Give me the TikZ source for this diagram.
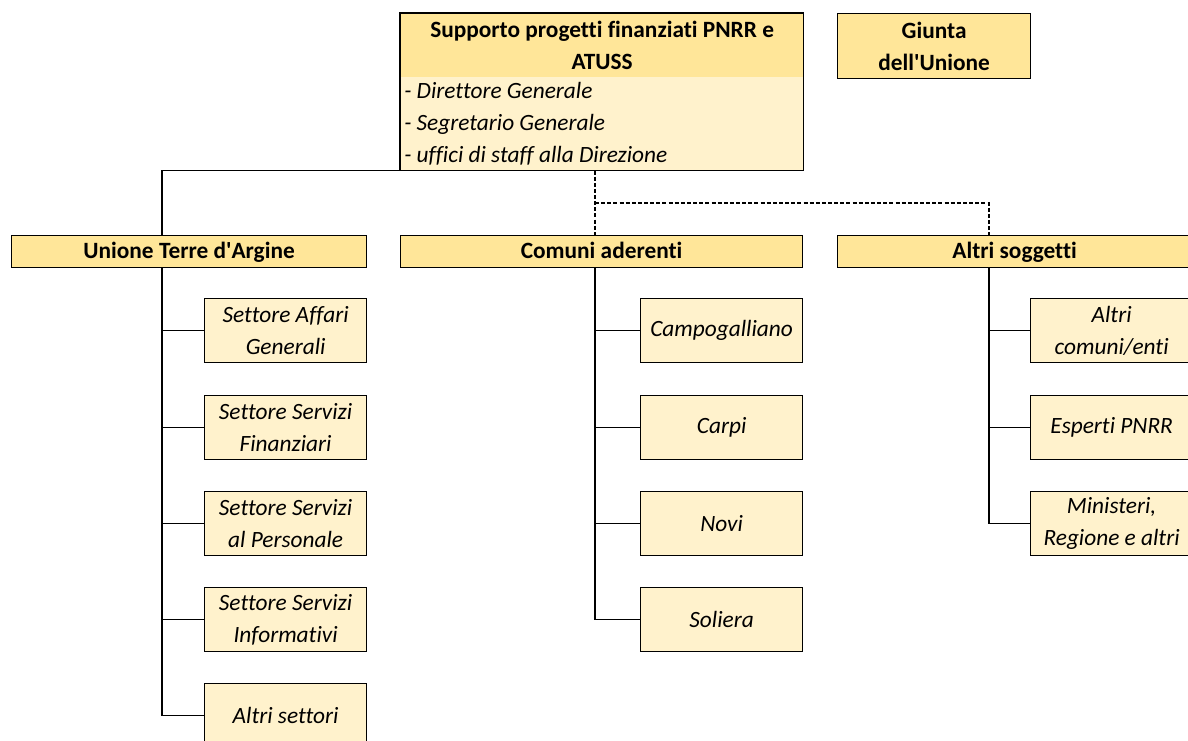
\documentclass[tikz,border=0pt]{standalone}
\usepackage{fontspec}
\setmainfont{Carlito}[Ligatures={NoCommon}]
\usetikzlibrary{positioning,calc}
\definecolor{hdrgold}{HTML}{FFE699}
\definecolor{leafcream}{HTML}{FFF2CC}

\begin{document}
\begin{tikzpicture}[x=0.75pt,y=-0.75pt,
  head/.style={rectangle, draw, fill=hdrgold, line width=0.9pt,
               minimum height=24pt, inner sep=0pt, anchor=north west,
               text height=11pt, text depth=1pt,
               font=\fontsize{17.5}{24}\selectfont\bfseries},
  leaf/.style={rectangle, draw, fill=leafcream, line width=0.9pt,
               minimum width=121.5pt, minimum height=48pt, inner sep=0pt,
               anchor=north west, align=center,
               font=\fontsize{17.5}{24}\selectfont\itshape},
  conn/.style={line width=0.9pt},
  staff/.style={line width=0.9pt, dash pattern=on 3pt off 1.6pt}
]
  \useasboundingbox (0,0) rectangle (1188,740);

  % top: support box and giunta
  \node[head, draw=none, minimum width=302.25pt, minimum height=48pt,
        text height=, text depth=, align=center] (suphead) at (400,13)
        {Supporto progetti finanziati PNRR e\\ATUSS};
  \node[rectangle, fill=leafcream, anchor=north west, inner ysep=0pt,
        inner xsep=3pt, text width=296.25pt, minimum height=69.75pt,
        align=flush left, font=\fontsize{17.5}{24}\selectfont\itshape]
        (supbody) at (400,77)
        {- Direttore Generale\\- Segretario Generale\\- uffici di staff alla Direzione};
  \draw[line width=0.9pt] (suphead.north west) rectangle (supbody.south east);
  \node[head, minimum width=144.75pt, minimum height=48.75pt, align=center,
        text height=, text depth=]
        (giunta) at (837,13) {Giunta\\dell\textquotesingle Unione};

  % three branches
  \node[head, minimum width=266.25pt] (unione) at (11,235) {Unione Terre d\textquotesingle Argine};
  \node[head, minimum width=301.5pt] (comuni) at (400,235) {Comuni aderenti};
  \node[head, minimum width=265.5pt] (altri) at (837,235) {Altri soggetti};

  \coordinate (utrunk) at (162,235);
  \coordinate (ctrunk) at (595,235);
  \coordinate (atrunk) at (989,235);
  \coordinate (split) at (595,203);

  % Unione leaves
  \node[leaf] (affari) at (204,298) {Settore Affari\\Generali};
  \node[leaf] (finanz) at (204,395) {Settore Servizi\\Finanziari};
  \node[leaf] (person) at (204,491) {Settore Servizi\\al Personale};
  \node[leaf] (inform) at (204,587) {Settore Servizi\\Informativi};
  \node[leaf] (altset) at (204,683) {Altri settori};

  % Comuni leaves
  \node[leaf] (campo) at (640,298) {Campogalliano};
  \node[leaf] (carpi) at (640,395) {Carpi};
  \node[leaf] (novi) at (640,491) {Novi};
  \node[leaf] (soliera) at (640,587) {Soliera};

  % Altri leaves
  \node[leaf] (enti) at (1030,298) {Altri\\comuni/enti};
  \node[leaf] (esperti) at (1030,395) {Esperti PNRR};
  \node[leaf] (minist) at (1030,491) {Ministeri,\\Regione e altri};

  % links from the top
  \draw[conn] (supbody.south west) -| (utrunk);
  \draw[staff] (supbody.south -| ctrunk) -- (ctrunk);
  \draw[staff] (split) -| (atrunk);

  % trunks and branches
  \draw[conn] (unione.south -| utrunk) |- (altset.west);
  \draw[conn] (affari.west) -- (affari.west -| utrunk);
  \draw[conn] (finanz.west) -- (finanz.west -| utrunk);
  \draw[conn] (person.west) -- (person.west -| utrunk);
  \draw[conn] (inform.west) -- (inform.west -| utrunk);

  \draw[conn] (comuni.south -| ctrunk) |- (soliera.west);
  \draw[conn] (campo.west) -- (campo.west -| ctrunk);
  \draw[conn] (carpi.west) -- (carpi.west -| ctrunk);
  \draw[conn] (novi.west) -- (novi.west -| ctrunk);

  \draw[conn] (altri.south -| atrunk) |- (minist.west);
  \draw[conn] (enti.west) -- (enti.west -| atrunk);
  \draw[conn] (esperti.west) -- (esperti.west -| atrunk);
\end{tikzpicture}
\end{document}
